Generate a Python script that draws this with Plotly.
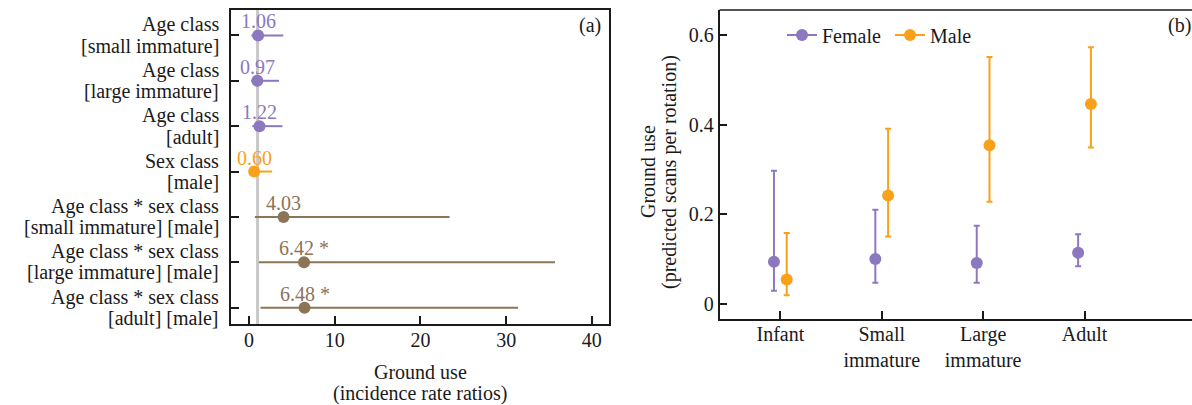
import plotly.graph_objects as go

# ---------------- data: panel (a) ----------------
terms = [
    "Age class<br>[small immature]",
    "Age class<br>[large immature]",
    "Age class<br>[adult]",
    "Sex class<br>[male]",
    "Age class * sex class<br>[small immature] [male]",
    "Age class * sex class<br>[large immature] [male]",
    "Age class * sex class<br>[adult] [male]",
]
irr = [1.06, 0.97, 1.22, 0.60, 4.03, 6.42, 6.48]
irr_low = [0.28, 0.27, 0.38, 0.13, 0.69, 1.15, 1.34]
irr_high = [4.0, 3.5, 3.9, 2.7, 23.4, 35.7, 31.4]
signif = ["", "", "", "", "", " *", " *"]
term_group = ["age", "age", "age", "sex", "inter", "inter", "inter"]
x_title_a = ["Ground use", "(incidence rate ratios)"]

# ---------------- data: panel (b) ----------------
age_classes = ["Infant", "Small<br>immature", "Large<br>immature", "Adult"]
female_pred = [0.094, 0.100, 0.091, 0.114]
female_low = [0.029, 0.047, 0.047, 0.084]
female_high = [0.297, 0.210, 0.174, 0.155]
male_pred = [0.054, 0.242, 0.354, 0.446]
male_low = [0.019, 0.150, 0.228, 0.349]
male_high = [0.158, 0.391, 0.551, 0.573]
y_title_b = ["Ground use", "(predicted scans per rotation)"]

PURPLE = "#8B78BE"
ORANGE = "#F9A11B"
BROWN = "#8C7456"
GREY = "#C8C8C8"
INK = "#1a1a1a"
FONT = "Liberation Serif"
FS = 20

W, H = 1192, 405
group_colors = {"age": PURPLE, "sex": ORANGE, "inter": BROWN}


def px_x(p):
    return p / W


def px_y(p):
    return 1 - p / H


fig = go.Figure()

# vertical reference line at IRR = 1
fig.add_shape(type="line", xref="x", yref="y domain", x0=1, x1=1, y0=0, y1=1,
              line=dict(color=GREY, width=3), layer="below")
# top frame line of panel (b)
fig.add_shape(type="line", xref="x2 domain", yref="y2 domain", x0=0, x1=1, y0=1, y1=1,
              line=dict(color=INK, width=1.5), layer="above")

annotations = []
for g in ["age", "sex", "inter"]:
    idx = [i for i, t in enumerate(term_group) if t == g]
    fig.add_trace(go.Scatter(
        x=[irr[i] for i in idx], y=[terms[i] for i in idx], mode="markers",
        marker=dict(color=group_colors[g], size=12),
        error_x=dict(type="data", symmetric=False,
                     array=[irr_high[i] - irr[i] for i in idx],
                     arrayminus=[irr[i] - irr_low[i] for i in idx],
                     color=group_colors[g], thickness=2, width=0),
        showlegend=False, xaxis="x", yaxis="y", cliponaxis=False,
    ))
    for i in idx:
        annotations.append(dict(
            text=f"{irr[i]:.2f}{signif[i]}", x=irr[i], y=terms[i], xref="x", yref="y",
            xanchor="center", yanchor="middle", yshift=14, showarrow=False,
            font=dict(family=FONT, size=FS, color=group_colors[g])))

# two-line category labels of panel (a)
for t in terms:
    line1, line2 = t.split("<br>")
    for txt, sh in [(line1, 10.5), (line2, -10.5)]:
        annotations.append(dict(
            text=txt, x=px_x(221), y=t, xref="paper", yref="y",
            xanchor="right", yanchor="middle", yshift=sh, showarrow=False,
            font=dict(family=FONT, size=FS, color=INK)))

xpos = list(range(len(age_classes)))
dodge = 0.063
for name, pred, lo, hi, col, sgn in [
    ("Female", female_pred, female_low, female_high, PURPLE, -1),
    ("Male", male_pred, male_low, male_high, ORANGE, 1),
]:
    fig.add_trace(go.Scatter(
        x=[p + sgn * dodge for p in xpos], y=pred, mode="markers", name=name,
        marker=dict(color=col, size=12),
        error_y=dict(type="data", symmetric=False,
                     array=[h - p for h, p in zip(hi, pred)],
                     arrayminus=[p - l for p, l in zip(pred, lo)],
                     color=col, thickness=2, width=3),
        xaxis="x2", yaxis="y2", showlegend=False,
    ))
    # legend entry (line + marker)
    fig.add_trace(go.Scatter(
        x=[None], y=[None], mode="lines+markers", name=name,
        marker=dict(color=col, size=12), line=dict(color=col, width=2),
        xaxis="x2", yaxis="y2", showlegend=True,
    ))

axis_common = dict(
    showgrid=False, zeroline=False, showline=True, linecolor=INK, linewidth=1.5,
    ticks="inside", ticklen=8, tickwidth=1.5, tickcolor=INK,
    tickfont=dict(family=FONT, size=FS, color=INK),
)

annotations += [
    dict(text="(a)", x=px_x(590), y=px_y(25), xref="paper", yref="paper",
         xanchor="center", yanchor="middle", showarrow=False,
         font=dict(family=FONT, size=FS, color=INK)),
    dict(text="(b)", x=px_x(1179), y=px_y(25), xref="paper", yref="paper",
         xanchor="center", yanchor="middle", showarrow=False,
         font=dict(family=FONT, size=FS, color=INK)),
]
for txt, ypx in zip(x_title_a, [372, 393]):
    annotations.append(dict(text=txt, x=px_x(420), y=px_y(ypx), xref="paper", yref="paper",
                            xanchor="center", yanchor="middle", showarrow=False,
                            font=dict(family=FONT, size=FS, color=INK)))
for txt, xpx in zip(y_title_b, [648, 669]):
    annotations.append(dict(text=txt, x=px_x(xpx), y=px_y(172), xref="paper", yref="paper",
                            xanchor="center", yanchor="middle", showarrow=False,
                            textangle=-90, font=dict(family=FONT, size=FS, color=INK)))

fig.update_layout(
    width=W, height=H,
    margin=dict(l=0, r=0, t=0, b=0),
    paper_bgcolor="white", plot_bgcolor="white",
    font=dict(family=FONT, size=FS, color=INK),
    xaxis=dict(domain=[px_x(231), px_x(609)], range=[-2.1, 42.0],
               tickvals=[0, 10, 20, 30, 40], mirror=True, anchor="y",
               ticklabelstandoff=-3, **axis_common),
    yaxis=dict(domain=[px_y(324), px_y(10)], type="category",
               categoryorder="array", categoryarray=terms,
               range=[6.36, -0.56], mirror=True, anchor="x",
               showticklabels=False, **axis_common),
    xaxis2=dict(domain=[px_x(719.5), 1.0], range=[-0.6, 4.06],
                tickvals=xpos, ticktext=age_classes, mirror=False, anchor="y2",
                ticklabelstandoff=-4, **axis_common),
    yaxis2=dict(domain=[px_y(319), px_y(10)], range=[-0.034, 0.656],
                tickvals=[0, 0.2, 0.4, 0.6], ticktext=["0", "0.2", "0.4", "0.6"],
                anchor="x2", mirror=False, ticklabelstandoff=0,
                **axis_common),
    legend=dict(orientation="h", x=px_x(782), y=px_y(35), xanchor="left", yanchor="middle",
                font=dict(family=FONT, size=FS, color=INK), bgcolor="rgba(0,0,0,0)",
                itemwidth=30, entrywidth=63, entrywidthmode="pixels"),
    annotations=annotations,
)

fig.write_html("out.html", config={"displayModeBar": False},
               post_script="document.body.style.margin='0px';document.body.style.overflow='hidden';")
